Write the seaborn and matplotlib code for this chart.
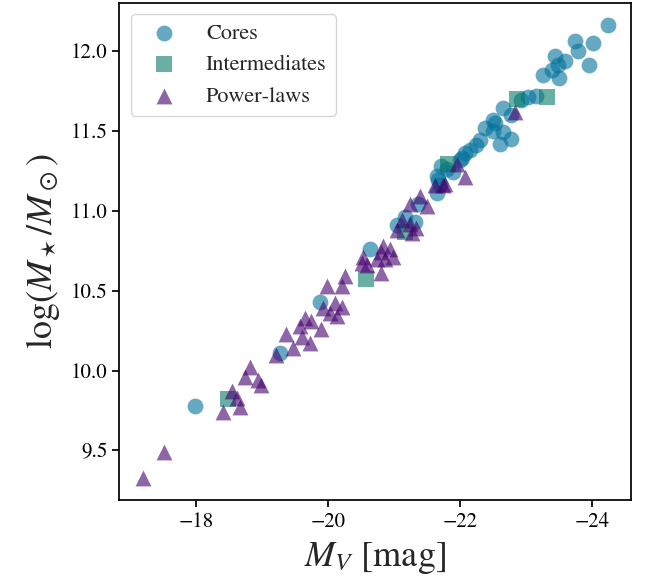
import matplotlib
matplotlib.use("Agg")
import matplotlib.pyplot as plt
import seaborn as sns
import pandas as pd

# ---- data ----
cores_mv = [-24.24, -23.74, -24.02, -23.79, -23.44, -23.60, -23.95, -23.49, -23.39, -23.26,
            -23.50, -23.03, -23.16, -22.92, -22.66, -22.50, -22.78, -22.53, -22.50, -22.66,
            -22.78, -22.30, -22.25, -22.15, -22.08, -22.03, -21.72, -21.67, -21.90, -22.61,
            -21.65, -21.70, -21.65, -21.37, -21.17, -21.32, -21.04, -20.64, -19.88, -19.27,
            -17.98, -22.38, -22.00, -21.80]
cores_logm = [12.16, 12.06, 12.05, 12.00, 11.97, 11.94, 11.91, 11.91, 11.88, 11.85,
              11.83, 11.71, 11.72, 11.69, 11.64, 11.57, 11.60, 11.55, 11.50, 11.49,
              11.45, 11.44, 11.41, 11.38, 11.36, 11.33, 11.28, 11.19, 11.24, 11.42,
              11.22, 11.16, 11.11, 11.04, 10.96, 10.93, 10.91, 10.76, 10.43, 10.11,
              9.78, 11.52, 11.32, 11.26]

inter_mv = [-22.87, -23.32, -21.82, -21.17, -20.57, -18.49]
inter_logm = [11.70, 11.71, 11.29, 10.87, 10.57, 9.82]

pl_mv = [-22.83, -21.95, -22.08, -21.77, -21.62, -21.75, -21.39, -21.50, -21.24, -21.12,
         -21.24, -21.04, -21.27, -21.34, -20.84, -20.94, -20.99, -20.81, -20.53, -20.51,
         -20.74, -20.86, -20.26, -20.81, -20.59, -20.21, -19.98, -19.93, -20.11, -20.21,
         -20.13, -20.03, -19.65, -19.75, -19.58, -19.90, -19.37, -19.60, -19.73, -19.47,
         -19.22, -18.82, -18.74, -18.94, -18.99, -18.54, -18.62, -18.67, -18.41, -17.52,
         -17.19]
pl_logm = [11.62, 11.29, 11.21, 11.17, 11.16, 11.16, 11.09, 11.03, 11.04, 10.94,
           10.92, 10.88, 10.86, 10.89, 10.78, 10.76, 10.71, 10.74, 10.71, 10.67,
           10.70, 10.70, 10.59, 10.61, 10.66, 10.53, 10.53, 10.39, 10.42, 10.40,
           10.34, 10.36, 10.33, 10.31, 10.28, 10.26, 10.23, 10.21, 10.17, 10.14,
           10.10, 10.02, 9.96, 9.94, 9.91, 9.87, 9.83, 9.77, 9.74, 9.49,
           9.33]

labels = ["Cores", "Intermediates", "Power-laws"]
colors = ["#00719a", "#077b67", "#43006e"]
markers = ["o", "s", "^"]
x_ticks = [-18, -20, -22, -24]
y_ticks = [9.5, 10.0, 10.5, 11.0, 11.5, 12.0]

# ---- style ----
sns.set_style("ticks")
plt.rcParams["font.family"] = ["STIXGeneral", "DejaVu Serif"]
plt.rcParams["mathtext.fontset"] = "stix"
plt.rcParams["axes.unicode_minus"] = True

fig = plt.figure(figsize=(6.49, 5.85), dpi=100)
ax = fig.add_axes([0.184, 0.1453, 0.788, 0.8496])

series = [(cores_mv, cores_logm), (inter_mv, inter_logm), (pl_mv, pl_logm)]
for (xs, ys), lab, col, mk in zip(series, labels, colors, markers):
    df = pd.DataFrame({"MV": xs, "logM": ys})
    sns.scatterplot(data=df, x="MV", y="logM", ax=ax, color=col, marker=mk,
                    s=130, alpha=0.6, linewidth=0, label=lab)

ax.set_xlim(-16.84, -24.59)
ax.set_ylim(9.19, 12.3)
ax.set_xticks(x_ticks)
ax.set_yticks(y_ticks)
ax.set_yticklabels([f"{v:.1f}" for v in y_ticks])
ax.tick_params(labelsize=15, width=1.25, length=5, direction="out", colors="black")
for sp in ax.spines.values():
    sp.set_linewidth(1.25)
    sp.set_color("black")
    sp.set_visible(True)

ax.set_xlabel(r"$M_V$ [mag]", fontsize=26, labelpad=6)
ax.set_ylabel(r"$\log(M_\star/M_\odot)$", fontsize=26, labelpad=6)

ax.legend(loc="upper left", fontsize=16, handlelength=2.2, frameon=True,
          borderaxespad=0.5)

fig.savefig("out.png", dpi=100)
